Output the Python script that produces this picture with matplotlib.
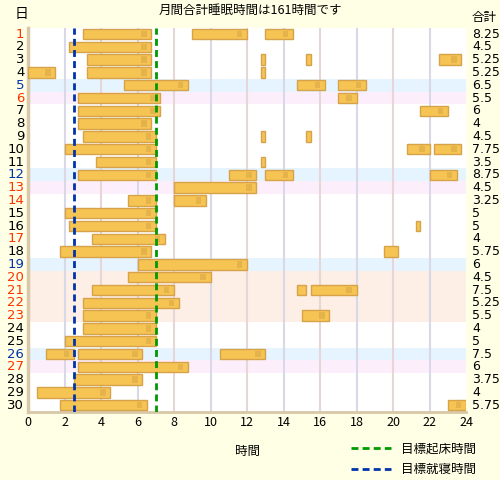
import matplotlib
matplotlib.use('Agg')
from matplotlib import pyplot as plt
from matplotlib.lines import Line2D

plt.rcParams['font.family'] = ['Noto Sans CJK JP', 'DejaVu Sans']

# sleep segments per day: (start, end) in hours
days = list(range(1, 31))
sleep = [
    [(3, 6.75), (9, 12), (13, 14.5)],
    [(2.25, 6.75)],
    [(3.25, 6.75), (12.75, 13), (15.25, 15.5), (22.5, 23.75)],
    [(0, 1.5), (3.25, 6.75), (12.75, 13)],
    [(5.25, 8.75), (14.75, 16.25), (17, 18.5)],
    [(2.75, 7.25), (17, 18)],
    [(2.75, 7.25), (21.5, 23)],
    [(2.75, 6.75)],
    [(3, 7), (12.75, 13), (15.25, 15.5)],
    [(2, 7), (20.75, 22), (22.25, 23.75)],
    [(3.75, 7), (12.75, 13)],
    [(2.75, 7), (11, 12.5), (13, 14.5), (22, 23.5)],
    [(8, 12.5)],
    [(5.5, 7), (8, 9.75)],
    [(2, 7)],
    [(2.25, 7), (21.25, 21.5)],
    [(3.5, 7.5)],
    [(1.75, 6.75), (19.5, 20.25)],
    [(6, 12)],
    [(5.5, 10)],
    [(3.5, 8), (14.75, 15.25), (15.5, 18)],
    [(3, 8.25)],
    [(3, 7), (15, 16.5)],
    [(3, 7)],
    [(2, 7)],
    [(1, 2.5), (2.75, 6.25), (10.5, 13)],
    [(2.75, 8.75)],
    [(2.5, 6.25)],
    [(0.5, 4.5)],
    [(1.75, 6.5), (23, 24)],
]
totals = ['8.25', '4.5', '5.25', '5.25', '6.5', '5.5', '6', '4', '4.5', '7.75',
          '3.5', '8.75', '4.5', '3.25', '5', '5', '4', '5.75', '6', '4.5',
          '7.5', '5.25', '5.5', '4', '5', '7.5', '6', '3.75', '4', '5.75']
saturdays = [5, 12, 19, 26]
sundays = [6, 13, 27]
holidays = [20, 21, 22, 23]
red_days = [1, 6, 13, 14, 17, 20, 21, 22, 23, 27]
target_wake = 7
target_bed = 2.5
title = '月間合計睡眠時間は161時間です'

bg = '#FFFFE6'
fig = plt.figure(figsize=(5, 4.8), dpi=100, facecolor=bg)
ax = fig.add_axes([0.056, 0.1425, 0.876, 0.8])
ax.set_facecolor('white')

# row bands
for d in saturdays:
    ax.axhspan(d - 0.5, d + 0.5, color='#E6F4FF', zorder=0, lw=0)
for d in sundays:
    ax.axhspan(d - 0.5, d + 0.5, color='#FDEEFC', zorder=0, lw=0)
for d in holidays:
    ax.axhspan(d - 0.5, d + 0.5, color='#FDEEE6', zorder=0, lw=0)

# grid
for g in range(2, 24, 2):
    c = '#D8D8E6' if (g // 2) % 2 == 1 else '#E6D6D6'
    ax.axvline(g, color=c, lw=1.5, zorder=1)

# bars
for d, segs in zip(days, sleep):
    for s, e in segs:
        ax.barh(d, e - s, left=s, height=0.82, color='#F6C453',
                edgecolor='#D6A24A', lw=1, zorder=3)
        if e - s >= 1:
            ax.barh(d, 0.3, left=e - 0.55, height=0.5, color='#D9A848',
                    lw=0, zorder=4, alpha=0.6)

ax.axvline(target_wake, color='#009900', ls=(0, (2.5, 1.5)), lw=2, zorder=5)
ax.axvline(target_bed, color='#0033AA', ls=(0, (2.5, 1.5)), lw=2, zorder=5)

ax.set_xlim(0, 24)
ax.set_ylim(30.5, 0.5)
ax.set_xticks(range(0, 25, 2))
ax.set_yticks([])
ax.tick_params(axis='x', length=0, labelsize=9, pad=3)
for sp in ['top', 'right']:
    ax.spines[sp].set_visible(False)
ax.spines['left'].set_color('#D8C8A8')
ax.spines['left'].set_linewidth(2.5)
ax.spines['bottom'].set_color('#D8C8A8')
ax.spines['bottom'].set_linewidth(2)

# day labels and totals
for d, t in zip(days, totals):
    if d in saturdays:
        c = '#0033AA'
    elif d in red_days:
        c = '#FF3300'
    else:
        c = 'black'
    ax.text(-0.2, d, str(d), ha='right', va='center', fontsize=9.5, color=c,
            family='DejaVu Sans')
    ax.text(24.35, d, t, ha='left', va='center', fontsize=9, color='black',
            family='DejaVu Sans')

fig.text(0.5, 0.978, title, ha='center', va='center', fontsize=9)
fig.text(0.043, 0.97, '日', ha='center', va='center', fontsize=10)
fig.text(0.968, 0.963, '合計', ha='center', va='center', fontsize=9)
fig.text(0.496, 0.06, '時間', ha='center', va='center', fontsize=9)

handles = [Line2D([], [], color='#009900', ls=(0, (2.5, 1.5)), lw=2),
           Line2D([], [], color='#0033AA', ls=(0, (2.5, 1.5)), lw=2)]
fig.legend(handles, ['目標起床時間', '目標就寝時間'], loc='lower left',
           bbox_to_anchor=(0.68, -0.015), frameon=False, fontsize=9,
           handlelength=3.2, labelspacing=0.6)

plt.savefig('out.png', dpi=100, facecolor=bg)
